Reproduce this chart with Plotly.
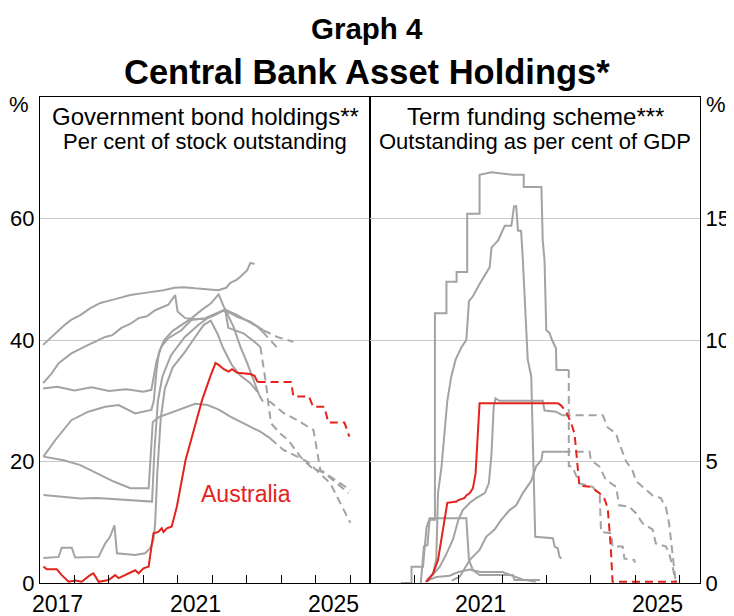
import plotly.graph_objects as go
from plotly.subplots import make_subplots

# ---------------- Left panel: Government bond holdings (% of stock outstanding)
AUS_GB_X = [2017.10, 2017.20, 2017.49, 2017.63, 2017.83, 2018.02, 2018.21, 2018.45, 2018.55, 2018.70,
            2018.99, 2019.18, 2019.28, 2019.76, 2019.86, 2020.00, 2020.15, 2020.29, 2020.43, 2020.53,
            2020.58, 2020.68, 2020.82, 2020.97, 2021.22, 2021.46, 2021.70, 2021.94, 2022.09, 2022.18,
            2022.33, 2022.47, 2022.57, 2022.72, 2023.10, 2023.22, 2023.31]
AUS_GB_Y = [2.7, 2.25, 2.25, 1.3, 0.2, 0.4, 0.2, 1.3, 1.6, 0.2,
            0.5, 1.3, 0.8, 2.1, 1.6, 2.4, 2.7, 8.2, 8.4, 9.0,
            8.4, 9.0, 9.3, 12.6, 20.2, 25.2, 30.1, 34.0, 36.2, 35.9,
            35.2, 34.8, 35.2, 34.6, 34.4, 34.1, 33.1]
AUS_GB_PX = [2023.31, 2024.28, 2024.35, 2024.80, 2024.92, 2025.25, 2025.36, 2025.83, 2025.97]
AUS_GB_PY = [33.1, 33.1, 30.7, 30.7, 29.0, 29.0, 26.4, 26.4, 24.1]

GB1_X = [2017.09, 2017.35, 2017.68, 2017.90, 2018.17, 2018.45, 2018.75, 2019.10, 2019.62, 2020.10,
         2020.58, 2020.90, 2021.16, 2021.50, 2021.74, 2022.17, 2022.40, 2022.52, 2022.70, 2022.81,
         2023.01, 2023.10, 2023.22]
GB1_Y = [39.2, 40.6, 42.3, 43.3, 44.1, 45.2, 46.1, 46.6, 47.4, 47.8,
         48.2, 48.6, 48.7, 48.5, 48.4, 48.2, 48.6, 49.4, 49.9, 50.4,
         51.5, 52.7, 52.5]

GB2_X = [2017.09, 2017.34, 2017.54, 2017.91, 2018.40, 2018.89, 2019.10, 2019.36, 2019.60, 2019.86,
         2020.10, 2020.34, 2020.72, 2020.92, 2020.99, 2021.21, 2021.50, 2021.80, 2022.05, 2022.30,
         2022.50, 2022.72, 2023.10, 2023.48]
GB2_Y = [32.9, 34.5, 36.2, 37.8, 39.2, 40.5, 40.8, 42.0, 42.6, 43.6,
         43.9, 44.9, 45.8, 47.4, 44.7, 43.6, 43.4, 43.5, 44.0, 44.8,
         44.5, 43.8, 43.0, 41.6]
GB2_PX = [2023.48, 2023.88, 2024.35]
GB2_PY = [41.6, 40.5, 39.7]

GB3_X = [2017.09, 2017.50, 2018.00, 2018.50, 2019.00, 2019.50, 2020.00, 2020.23, 2020.30, 2020.38,
         2020.52, 2020.72, 2021.10, 2021.39, 2021.79, 2022.10, 2022.37, 2022.72, 2023.00, 2023.30,
         2023.45]
GB3_Y = [32.0, 32.3, 31.7, 32.2, 31.6, 31.9, 31.5, 31.8, 34.0, 36.5,
         38.9, 40.3, 41.6, 43.3, 43.6, 44.4, 45.0, 44.1, 43.2, 42.2,
         41.4]
GB3_PX = [2023.45, 2023.92]
GB3_PY = [41.4, 38.5]

GB4_X = [2017.10, 2017.44, 2017.91, 2018.40, 2018.89, 2019.28, 2019.76, 2020.23, 2020.30, 2020.38,
         2020.45, 2020.60, 2020.85, 2021.10, 2021.40, 2021.70, 2021.95, 2022.18, 2022.33, 2022.61,
         2022.81, 2023.01, 2023.19, 2023.35]
GB4_Y = [20.8, 23.5, 26.8, 28.2, 29.0, 29.3, 27.9, 28.5, 30.0, 35.0,
         38.0, 40.0, 41.5, 42.5, 43.6, 45.0, 46.0, 47.5, 45.5, 42.2,
         38.9, 36.2, 33.4, 31.0]
GB4_PX = [2023.35, 2023.45, 2023.68, 2024.06, 2024.46, 2024.93, 2025.13, 2025.22, 2026.00]
GB4_PY = [31.0, 30.0, 29.8, 28.0, 26.8, 25.2, 18.6, 18.3, 15.3]

GB6_X = [2017.10, 2017.69, 2018.17, 2018.66, 2019.14, 2019.62, 2020.15, 2020.20, 2020.27, 2020.45,
         2020.80, 2021.20, 2021.50, 2021.86, 2022.20, 2022.52, 2023.00, 2023.39, 2023.68]
GB6_Y = [20.8, 20.2, 19.4, 18.1, 16.7, 15.6, 15.6, 20.0, 26.5, 27.3,
         28.0, 28.8, 29.5, 29.3, 28.5, 27.4, 26.0, 24.9, 23.8]
GB6_PX = [2023.68, 2024.06, 2024.75, 2025.42, 2026.00]
GB6_PY = [23.8, 21.9, 20.0, 16.4, 9.9]

GB7_X = [2017.10, 2017.50, 2018.17, 2018.66, 2019.14, 2019.62, 2020.15, 2020.25, 2020.32, 2020.42,
         2020.55, 2020.80, 2021.20, 2021.60, 2021.90, 2022.20, 2022.37, 2022.46, 2022.90, 2023.20,
         2023.39]
GB7_Y = [14.5, 14.3, 13.9, 14.0, 13.8, 13.6, 13.4, 13.4, 22.0, 30.0,
         34.0, 37.5, 40.5, 42.5, 43.8, 44.5, 45.0, 42.0, 41.1, 39.8,
         38.9]
GB7_PX = [2023.39, 2023.55, 2023.62, 2023.70, 2023.95, 2024.20, 2024.55, 2024.85, 2025.25, 2025.95]
GB7_PY = [38.9, 33.0, 29.6, 26.3, 24.7, 23.5, 20.8, 19.1, 18.1, 14.8]

GB8_X = [2017.10, 2017.54, 2017.63, 2017.92, 2018.02, 2018.70, 2018.89, 2019.03, 2019.16, 2019.23,
         2019.76, 2020.05, 2020.19, 2020.29, 2020.34, 2020.40, 2020.50, 2020.62, 2020.85, 2021.20,
         2021.50, 2021.75, 2021.95, 2022.15, 2022.30, 2022.55, 2022.80, 2023.10, 2023.30]
GB8_Y = [4.1, 4.3, 5.8, 5.8, 4.2, 4.3, 6.5, 7.6, 9.5, 4.9,
         4.6, 4.9, 5.7, 7.1, 9.8, 18.0, 27.0, 32.0, 35.5, 38.0,
         40.5, 42.5, 43.2, 41.0, 38.8, 36.0, 34.2, 32.9, 31.5]

# ---------------- Right panel: Term funding scheme (% of GDP)
AUS_TF_X = [2020.28, 2020.43, 2020.54, 2020.62, 2020.69, 2020.75, 2020.96, 2020.99, 2021.14, 2021.18,
            2021.26, 2021.33, 2021.39, 2021.42, 2021.48, 2023.25]
AUS_TF_Y = [0.05, 0.4, 0.95, 1.8, 2.6, 3.3, 3.35, 3.4, 3.5, 3.6,
            3.7, 3.9, 4.5, 5.6, 7.4, 7.4]
AUS_TF_PX = [2023.25, 2023.33, 2023.44, 2023.55, 2023.63, 2023.67, 2023.74, 2024.00, 2024.19, 2024.30,
             2024.38, 2024.45, 2024.49, 2025.95]
AUS_TF_PY = [7.4, 7.3, 7.05, 6.6, 6.15, 5.3, 4.0, 3.96, 3.7, 3.5,
             3.1, 1.5, 0.05, 0.05]

TF1_X = [2020.15, 2020.22, 2020.30, 2020.35, 2020.47, 2020.47, 2020.73, 2020.73, 2020.96, 2020.96,
         2021.20, 2021.20, 2021.48, 2021.48, 2021.75, 2022.24, 2022.48, 2022.48, 2022.88, 2022.91,
         2022.95, 2022.99, 2023.06, 2023.12, 2023.21, 2023.22, 2023.50]
TF1_Y = [0.0, 1.5, 1.56, 2.6, 2.6, 11.1, 11.1, 12.4, 12.4, 12.8,
         12.8, 15.2, 15.2, 16.8, 16.9, 16.8, 16.8, 16.3, 16.3, 14.1,
         13.3, 10.4, 10.3, 10.0, 9.66, 8.77, 8.77]
TF1_PX = [2023.50, 2023.50, 2023.58, 2023.74, 2024.04, 2024.20, 2024.23, 2024.46, 2024.49, 2024.72,
          2024.76, 2024.98, 2025.00]
TF1_PY = [8.77, 4.8, 4.8, 4.1, 3.96, 3.6, 2.1, 2.05, 1.5, 1.5,
          1.0, 0.95, 0.84]

TF2_X = [2020.30, 2020.43, 2020.50, 2020.54, 2020.62, 2020.75, 2020.84, 2020.94, 2021.07, 2021.18,
         2021.24, 2021.33, 2021.48, 2021.71, 2021.75, 2021.90, 2022.05, 2022.20, 2022.26, 2022.31,
         2022.35, 2022.42, 2022.46, 2022.57, 2022.65, 2022.69, 2022.74, 2023.14, 2023.18, 2023.25,
         2023.29, 2023.33]
TF2_Y = [0.05, 0.4, 1.0, 3.7, 4.8, 7.5, 8.5, 9.2, 9.7, 10.0,
         11.6, 11.8, 12.3, 13.0, 13.8, 14.1, 14.7, 14.7, 15.5, 15.5,
         14.5, 14.5, 13.3, 9.2, 8.5, 5.75, 1.9, 1.84, 1.5, 1.43,
         1.08, 1.0]

TF3_X = [2020.28, 2020.40, 2020.58, 2020.73, 2020.88, 2021.00, 2021.10, 2021.26, 2021.41, 2021.60,
         2021.69, 2021.75, 2021.80, 2021.84, 2021.93, 2022.91, 2022.95, 2023.21, 2023.36]
TF3_Y = [0.12, 0.3, 0.67, 1.2, 1.8, 2.6, 3.0, 3.3, 3.5, 3.7,
         4.1, 5.3, 7.25, 7.6, 7.5, 7.5, 7.1, 7.05, 6.9]
TF3_PX = [2023.36, 2024.27, 2024.38, 2024.57, 2024.64, 2024.80, 2024.94, 2025.02, 2025.17, 2025.40,
          2025.58, 2025.70, 2025.77, 2025.85, 2025.88, 2025.92]
TF3_PY = [6.9, 6.9, 6.4, 6.15, 5.75, 5.0, 4.65, 4.2, 3.96, 3.6,
          3.5, 3.1, 2.45, 1.2, 0.67, 0.05]

TF4_X = [2020.85, 2021.03, 2021.26, 2021.48, 2021.63, 2021.82, 2021.97, 2022.16, 2022.31, 2022.46,
         2022.65, 2022.76, 2022.88, 2022.91, 2023.36]
TF4_Y = [0.1, 0.26, 0.95, 1.36, 1.9, 2.2, 2.6, 3.0, 3.2, 3.7,
         4.2, 4.8, 5.06, 5.4, 5.4]
TF4_PX = [2023.36, 2023.97, 2024.00, 2024.19, 2024.34, 2024.57, 2024.64, 2024.87, 2025.02, 2025.17,
          2025.40, 2025.47, 2025.70, 2025.77, 2025.85, 2025.92]
TF4_PY = [5.4, 5.4, 5.06, 4.8, 4.24, 3.96, 3.2, 3.14, 2.87, 2.46,
          2.2, 1.63, 1.5, 1.22, 0.67, 0.05]

TF5_X = [2019.70, 2019.94, 2019.94, 2020.20, 2020.24, 2020.28, 2020.35, 2021.18, 2021.24, 2021.33,
         2021.48, 2022.23, 2022.27, 2022.85]
TF5_Y = [0.0, 0.0, 0.67, 0.67, 1.5, 2.3, 2.66, 2.66, 0.95, 0.53,
         0.33, 0.33, 0.12, 0.12]

TF6_X = [2020.25, 2020.50, 2020.80, 2021.00, 2021.26, 2021.50, 2022.00, 2022.23, 2022.45, 2022.75]
TF6_Y = [0.05, 0.25, 0.3, 0.45, 0.55, 0.45, 0.45, 0.3, 0.15, 0.05]

LEFT_TICKS = [2018, 2019, 2020, 2021, 2022, 2023, 2024, 2025, 2026]
RIGHT_TICKS = [2020, 2021, 2022, 2023, 2024, 2025, 2026]
LEFT_LABEL_POS = [2017.5, 2021.5, 2025.5]
LEFT_LABELS = ["2017", "2021", "2025"]
RIGHT_LABEL_POS = [2021.5, 2025.5]
RIGHT_LABELS = ["2021", "2025"]

GRAY = "#a3a3a3"
RED = "#e3231c"
DASH = "8px,5px"
FONT = "Liberation Sans, Arial, sans-serif"

fig = make_subplots(rows=1, cols=2, horizontal_spacing=0)


def add(x, y, col, color, dash=None):
    fig.add_trace(go.Scatter(x=x, y=y, mode="lines",
                             line=dict(color=color, width=2, dash=dash),
                             hoverinfo="skip", showlegend=False), row=1, col=col)


for sx, sy in [(GB1_X, GB1_Y), (GB2_X, GB2_Y), (GB3_X, GB3_Y), (GB4_X, GB4_Y),
               (GB6_X, GB6_Y), (GB7_X, GB7_Y), (GB8_X, GB8_Y)]:
    add(sx, sy, 1, GRAY)
for sx, sy in [(GB2_PX, GB2_PY), (GB3_PX, GB3_PY), (GB4_PX, GB4_PY),
               (GB6_PX, GB6_PY), (GB7_PX, GB7_PY)]:
    add(sx, sy, 1, GRAY, DASH)
add(AUS_GB_X, AUS_GB_Y, 1, RED)
add(AUS_GB_PX, AUS_GB_PY, 1, RED, DASH)

for sx, sy in [(TF1_X, TF1_Y), (TF2_X, TF2_Y), (TF3_X, TF3_Y), (TF4_X, TF4_Y),
               (TF5_X, TF5_Y), (TF6_X, TF6_Y)]:
    add(sx, sy, 2, GRAY)
for sx, sy in [(TF1_PX, TF1_PY), (TF3_PX, TF3_PY), (TF4_PX, TF4_PY)]:
    add(sx, sy, 2, GRAY, DASH)
add(AUS_TF_X, AUS_TF_Y, 2, RED)
add(AUS_TF_PX, AUS_TF_PY, 2, RED, DASH)

frame = dict(showline=True, linecolor="black", linewidth=1, mirror=True, zeroline=False,
             automargin=False)

fig.update_xaxes(row=1, col=1, range=[2017.0, 2026.57], tickmode="array", tickvals=LEFT_TICKS,
                 ticks="inside", ticklen=8, tickcolor="black", tickwidth=1,
                 showticklabels=False, showgrid=False, **frame)
fig.update_xaxes(row=1, col=2, range=[2019.0, 2026.47], tickmode="array", tickvals=RIGHT_TICKS,
                 ticks="inside", ticklen=8, tickcolor="black", tickwidth=1,
                 showticklabels=False, showgrid=False, **frame)
fig.update_yaxes(row=1, col=1, range=[0, 80], tickmode="array", tickvals=[0, 20, 40, 60],
                 ticks="", showgrid=True, gridcolor="#c8c8c8", gridwidth=1.3,
                 tickfont=dict(size=22, color="black", family=FONT), **frame)
fig.update_yaxes(row=1, col=2, range=[0, 20], tickmode="array", tickvals=[0, 5, 10, 15],
                 side="right", ticks="", showgrid=True, gridcolor="#c8c8c8", gridwidth=1.3,
                 tickfont=dict(size=22, color="black", family=FONT), **frame)

for xv, lab in zip(LEFT_LABEL_POS, LEFT_LABELS):
    fig.add_annotation(xref="x", yref="paper", x=xv, y=-0.044, text=lab, showarrow=False,
                       xanchor="center", yanchor="middle",
                       font=dict(family=FONT, size=23, color="black"))
for xv, lab in zip(RIGHT_LABEL_POS, RIGHT_LABELS):
    fig.add_annotation(xref="x2", yref="paper", x=xv, y=-0.044, text=lab, showarrow=False,
                       xanchor="center", yanchor="middle",
                       font=dict(family=FONT, size=23, color="black"))

ann = [
    ("<b>Graph 4</b>", 0.495, 1.140, 29.5),
    ("<b>Central Bank Asset Holdings*</b>", 0.495, 1.052, 34.5),
    ("Government bond holdings**", 0.25, 0.960, 24),
    ("Per cent of stock outstanding", 0.25, 0.908, 22),
    ("Term funding scheme***", 0.75, 0.960, 24),
    ("Outstanding as per cent of GDP", 0.75, 0.908, 22),
    ("%", -0.032, 0.984, 22),
    ("%", 1.024, 0.984, 22),
]
for text, xp, yp, size in ann:
    fig.add_annotation(xref="paper", yref="paper", showarrow=False, xanchor="center",
                       yanchor="middle", text=text, x=xp, y=yp,
                       font=dict(family=FONT, color="black", size=size))

fig.add_annotation(xref="x", yref="y", x=2022.96, y=14.65, text="Australia", showarrow=False,
                   xanchor="center", yanchor="middle",
                   font=dict(family=FONT, color=RED, size=23))

# The page body adds an 8px offset, so the figure is 8px smaller with matching margins.
fig.update_layout(width=726, height=608, margin=dict(l=32, r=34, t=89, b=33),
                  plot_bgcolor="white", paper_bgcolor="white", showlegend=False,
                  font=dict(family=FONT, color="black"))

fig.write_html("out.html")
